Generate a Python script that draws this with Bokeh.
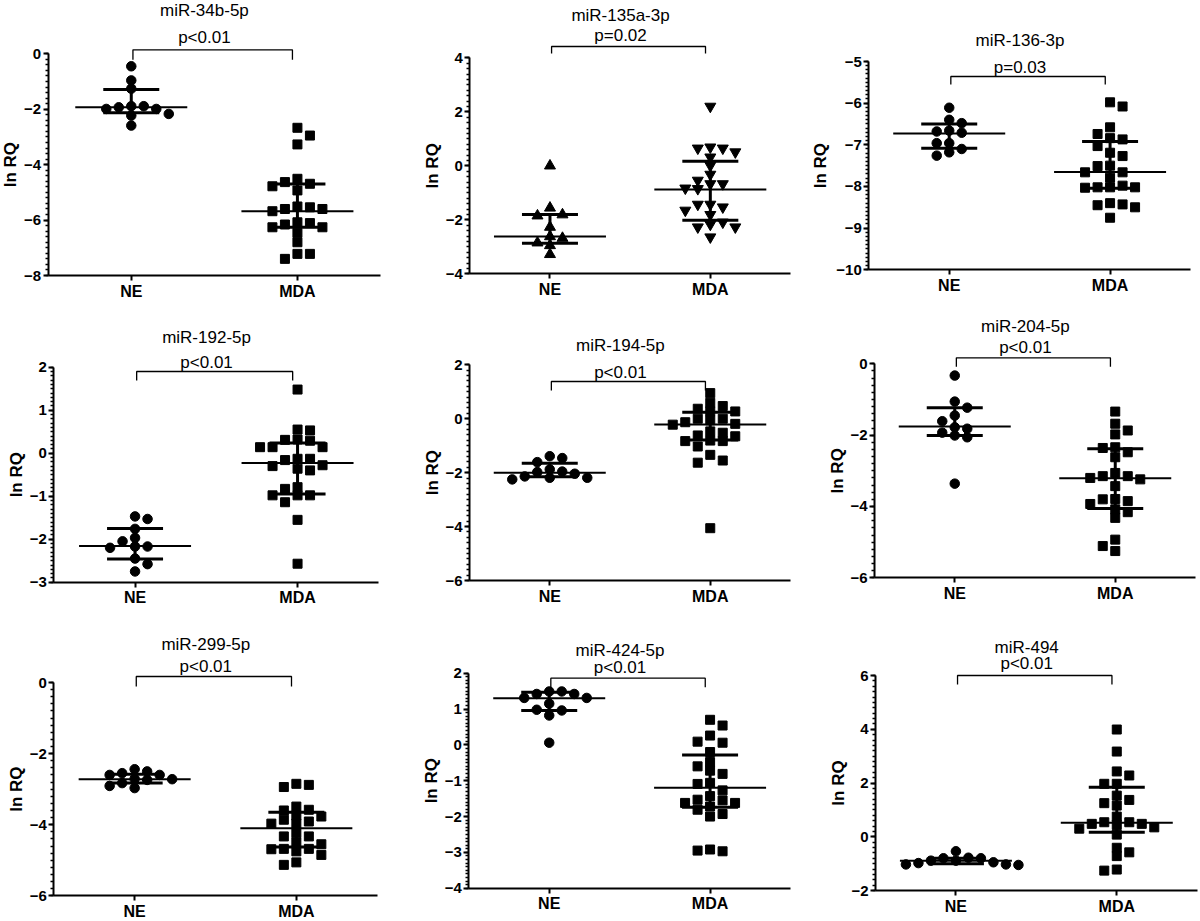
import numpy as np
from bokeh.plotting import figure
from bokeh.layouts import row, column
from bokeh.models import Range1d, SingleIntervalTicker, FixedTicker, Label
from bokeh.embed import file_html
from bokeh.resources import INLINE

# ------------------------------------------------------------------ data
mirnas = ["miR-34b-5p", "miR-135a-3p", "miR-136-3p",
          "miR-192-5p", "miR-194-5p", "miR-204-5p",
          "miR-299-5p", "miR-424-5p", "miR-494"]
p_labels = ["p<0.01", "p=0.02", "p=0.03",
            "p<0.01", "p<0.01", "p<0.01",
            "p<0.01", "p<0.01", "p<0.01"]
groups = ["NE", "MDA"]
y_title = "ln RQ"

# y-axis tick labels: min, max, major step
y_min = [-8, -4, -10, -3, -6, -6, -6, -4, -2]
y_max = [0, 4, -5, 2, 2, 0, 0, 2, 6]
y_step = [2, 2, 1, 1, 2, 2, 2, 1, 2]

ne_34b = [-0.45, -0.96, -1.26, -1.89, -1.99, -1.99, -1.93, -1.89, -2.17, -2.23, -2.59]
mda_34b = [-2.67, -2.95, -3.27, -4.51, -4.69, -4.93, -4.78, -4.63, -5.54, -5.60,
           -5.68, -5.60, -5.51, -6.11, -6.26, -6.46, -6.26, -6.16, -6.08, -6.80,
           -7.22, -7.22, -7.40]

ne_135a = [0.0, -1.56, -1.81, -1.85, -2.27, -2.62, -2.68, -2.85, -2.95, -3.28]
mda_135a = [2.20, 0.65, 0.51, 0.32, 0.65, 0.69, 0.01, -0.32, -0.67, -0.85,
            -0.83, -0.67, -0.54, -1.65, -1.43, -1.53, -1.43, -1.81, -2.27, -2.09,
            -2.27, -2.17, -2.64]

ne_136 = [-6.11, -6.48, -6.40, -6.66, -6.71, -6.68, -6.96, -6.96, -7.10, -7.18, -7.26]
mda_136 = [-5.98, -6.08, -6.58, -6.74, -6.84, -6.87, -7.03, -7.19, -7.27, -7.50,
           -7.51, -7.66, -7.66, -7.79, -7.98, -8.02, -8.03, -8.02, -8.02, -8.43,
           -8.45, -8.50, -8.40, -8.75]

ne_192 = [-1.47, -1.53, -1.76, -2.05, -1.97, -2.17, -2.20, -2.17, -2.45, -2.58, -2.75]
mda_192 = [1.48, 0.53, 0.55, 0.32, 0.29, 0.31, 0.14, 0.14, 0.14, -0.13,
           -0.16, -0.13, -0.30, -0.28, -0.40, -0.36, -0.79, -0.83, -0.98, -0.98,
           -0.98, -1.14, -1.55, -2.57]

ne_194 = [-1.46, -1.39, -1.61, -1.96, -2.04, -1.88, -1.98, -2.19, -2.25, -2.19, -2.14]
mda_194 = [0.95, 0.59, 0.47, 0.37, 0.27, 0.27, -0.06, -0.19, 0.0, 0.0,
           -0.22, -0.13, -0.47, -0.52, -0.62, -0.65, -0.81, -0.83, -0.83, -1.03,
           -1.34, -1.55, -1.63, -4.06]

ne_204 = [-0.33, -1.06, -1.23, -1.45, -1.61, -1.82, -1.78, -2.01, -1.93, -2.06, -3.36]
mda_204 = [-1.34, -1.68, -1.87, -1.98, -2.34, -2.36, -2.48, -2.62, -3.15, -3.24,
           -3.06, -3.20, -3.15, -3.43, -3.93, -3.79, -3.85, -3.80, -4.16, -4.32,
           -4.08, -4.93, -5.11, -5.25]

ne_299 = [-2.60, -2.72, -2.83, -2.50, -2.97, -2.55, -2.91, -2.44, -2.74, -2.71, -2.60]
mda_299 = [-2.88, -2.94, -2.85, -3.58, -3.60, -3.49, -3.74, -3.77, -3.86, -3.97,
           -3.97, -3.91, -4.24, -4.33, -4.33, -4.50, -4.55, -4.68, -4.69, -4.75,
           -4.68, -4.85, -5.06, -5.13]

ne_424 = [1.49, 1.42, 1.15, 1.31, 1.31, 1.42, 1.49, 0.96, 0.82, 0.98, 0.06]
mda_424 = [0.70, 0.54, 0.26, 0.06, 0.09, -0.20, -0.48, -0.60, -0.72, -0.81,
           -1.06, -1.09, -1.27, -1.43, -1.55, -1.53, -1.62, -1.62, -1.72, -1.81,
           -1.93, -2.00, -2.92, -2.97, -2.95]

ne_494 = [-0.54, -0.89, -0.95, -1.03, -0.80, -1.05, -0.80, -1.03, -0.78, -0.98, -0.89]
mda_494 = [3.99, 3.17, 2.43, 2.28, 1.97, 1.97, 1.53, 1.16, 1.25, 1.37,
           0.75, 0.54, 0.48, 0.35, 0.30, 0.44, 0.48, 0.54, 0.08, -0.58,
           -0.41, -0.72, -1.26, -1.22]

# median and interquartile range lines as drawn
ne_median = [-1.93, -2.62, -6.73, -2.16, -2.00, -1.76, -2.72, 1.30, -0.89]
ne_q1 = [-2.13, -2.87, -7.08, -2.46, -2.15, -2.01, -2.83, 0.96, -1.00]
ne_q3 = [-1.29, -1.80, -6.50, -1.75, -1.65, -1.23, -2.58, 1.47, -0.80]
mda_median = [-5.68, -0.88, -7.65, -0.23, -0.21, -3.21, -4.10, -1.20, 0.52]
mda_q1 = [-6.26, -2.02, -8.04, -0.95, -0.79, -4.06, -4.63, -1.74, 0.17]
mda_q3 = [-4.70, 0.17, -6.92, 0.24, 0.24, -2.38, -3.65, -0.28, 1.84]

ne_values = [ne_34b, ne_135a, ne_136, ne_192, ne_194, ne_204, ne_299, ne_424, ne_494]
mda_values = [mda_34b, mda_135a, mda_136, mda_192, mda_194, mda_204, mda_299, mda_424, mda_494]

# ------------------------------------------------------------------ layout
# page-pixel geometry per panel:
# axis x, axis right end, y px of top tick, y px of bottom tick,
# title y, p-label y, bracket y, bracket drop
geom = [
    (47.7, 380.0, 53.3, 275.0, 9.6, 36.7, 49.3, 10),
    (469.3, 790.0, 57.3, 273.3, 15.0, 35.0, 46.0, 7),
    (868.3, 1190.0, 61.0, 269.3, 40.0, 66.7, 76.0, 8),
    (53.3, 378.3, 366.7, 581.7, 336.7, 361.7, 371.0, 9),
    (469.0, 790.0, 364.3, 580.0, 345.0, 371.7, 381.0, 9),
    (874.0, 1195.0, 363.3, 577.3, 326.0, 346.7, 357.3, 9),
    (53.3, 376.7, 682.0, 895.3, 644.3, 666.0, 676.0, 10),
    (468.3, 790.0, 672.7, 887.7, 650.0, 666.7, 677.7, 9),
    (875.0, 1196.7, 675.0, 890.0, 646.7, 663.3, 675.0, 9),
]
markers = [("circle", "square"), ("triangle", "inverted_triangle"), ("circle", "square"),
           ("circle", "square"), ("circle", "square"), ("circle", "square"),
           ("circle", "square"), ("circle", "square"), ("circle", "square")]

col_start = [0, 400, 800]
col_w = [400, 400, 400]
row_start = [0, 303, 612]
row_h = [303, 309, 309]

FONT = "Liberation Sans"


def swarm(vals, ppu_y, step_px=12.5, dy_px=8.0):
    v = np.asarray(vals, float)
    order = np.argsort(-v, kind="stable")
    pk, py = [], []
    out = np.zeros(len(v))
    flip = 1
    for idx in order:
        y = v[idx] * ppu_y
        cands = [0.0]
        for m in range(1, 40):
            a = 0.5 * m
            cands += [flip * a, -flip * a]
        chosen = 0.0
        for c in cands:
            if all(abs(c - k) >= 1 - 1e-9 or abs(y - yy) >= dy_px for k, yy in zip(pk, py)):
                chosen = c
                break
        if chosen != 0:
            flip = -flip
        pk.append(chosen)
        py.append(y)
        out[idx] = chosen
    return out * step_px


def make_panel(i):
    c, r = i % 3, i // 3
    W, H = col_w[c], row_h[r]
    ax, aend, ytp, ybp, ty, pyy, by, drop = geom[i]
    vmin, vmax = y_min[i], y_max[i]
    ax_rel = ax - col_start[c]
    aend_rel = aend - col_start[c]
    ppx = (aend - ax) / 2.0
    x0 = 0.5 - ax_rel / ppx
    x1 = 2.5 + (W - aend_rel) / ppx
    s = (ybp - ytp) / (vmax - vmin)
    ytp_rel = ytp - row_start[r]
    ybp_rel = ybp - row_start[r]
    y0 = vmin - (H - ybp_rel) / s
    y1 = vmax + ytp_rel / s

    def yv(Y):
        return vmax + (ytp - Y) / s

    p = figure(width=W, height=H, x_range=Range1d(x0, x1), y_range=Range1d(y0, y1),
               min_border=0, min_border_left=0, min_border_right=0, min_border_top=0,
               min_border_bottom=0, output_backend="svg", toolbar_location=None)
    p.outline_line_color = None
    p.xgrid.visible = False
    p.ygrid.visible = False

    yax = p.yaxis[0]
    yax.fixed_location = 0.5
    yax.bounds = (vmin, vmax)
    yax.ticker = SingleIntervalTicker(interval=y_step[i], num_minor_ticks=10)
    yax.axis_line_width = 2
    yax.axis_line_color = "black"
    yax.major_tick_line_width = 2
    yax.major_tick_line_color = "black"
    yax.major_tick_out = 5
    yax.major_tick_in = 0
    yax.minor_tick_line_width = 1.5
    yax.minor_tick_line_color = "black"
    yax.minor_tick_out = 3
    yax.minor_tick_in = 0
    yax.major_label_standoff = 2
    yax.major_label_text_font = FONT
    yax.major_label_text_font_style = "bold"
    yax.major_label_text_font_size = "15px"
    yax.major_label_text_color = "black"

    xax = p.xaxis[0]
    xax.fixed_location = vmin
    xax.bounds = (0.5, 2.5)
    xax.ticker = FixedTicker(ticks=[1, 2])
    xax.major_label_overrides = {1: groups[0], 2: groups[1]}
    xax.axis_line_width = 2
    xax.axis_line_color = "black"
    xax.major_tick_line_width = 2
    xax.major_tick_line_color = "black"
    xax.major_tick_out = 5
    xax.major_tick_in = 0
    xax.minor_tick_line_color = None
    xax.major_label_standoff = 2
    xax.major_label_text_font = FONT
    xax.major_label_text_font_style = "bold"
    xax.major_label_text_font_size = "16px"
    xax.major_label_text_color = "black"

    # points
    for g, (vals, mk) in enumerate(zip([ne_values[i], mda_values[i]], markers[i])):
        off = swarm(vals, s)
        xs = (g + 1) + off / ppx
        size = 9.5 if mk == "circle" else (9 if mk == "square" else 11)
        p.scatter(xs, vals, marker=mk, size=size, fill_color="black", line_color="black")

    # median + IQR
    stats = [(ne_median[i], ne_q1[i], ne_q3[i]), (mda_median[i], mda_q1[i], mda_q3[i])]
    for g, (med, q1, q3) in enumerate(stats):
        xc = g + 1
        p.segment(x0=[xc - 56 / ppx], x1=[xc + 56 / ppx], y0=[med], y1=[med],
                  line_color="black", line_width=2)
        p.segment(x0=[xc - 28 / ppx, xc - 28 / ppx, xc], x1=[xc + 28 / ppx, xc + 28 / ppx, xc],
                  y0=[q1, q3, q1], y1=[q1, q3, q3], line_color="black", line_width=3)

    # significance bracket
    yb = yv(by)
    dd = drop / s
    p.line(x=[1.01, 1.01, 1.97, 1.97], y=[yb - dd, yb, yb, yb - dd],
           line_color="black", line_width=1.3)

    p.add_layout(Label(x=1.44, y=yv(ty), text=mirnas[i], text_align="center",
                       text_baseline="middle", text_font=FONT, text_font_size="17px",
                       text_color="black"))
    p.add_layout(Label(x=1.44, y=yv(pyy), text=p_labels[i], text_align="center",
                       text_baseline="middle", text_font=FONT, text_font_size="17px",
                       text_color="black"))

    maxw = max(len(str(t)) for t in range(vmin, vmax + 1, y_step[i]))
    off_lab = 37.5 + 10.8 * (maxw - 2)
    p.add_layout(Label(x=0.5 - off_lab / ppx, y=(vmin + vmax) / 2, text=y_title,
                       angle=np.pi / 2, text_align="center", text_baseline="middle",
                       text_font=FONT, text_font_size="17px", text_font_style="bold",
                       text_color="black"))
    return p


panels = [make_panel(i) for i in range(9)]
layout = column(row(*panels[0:3]), row(*panels[3:6]), row(*panels[6:9]))

open("out.html", "w").write(file_html(layout, INLINE))
